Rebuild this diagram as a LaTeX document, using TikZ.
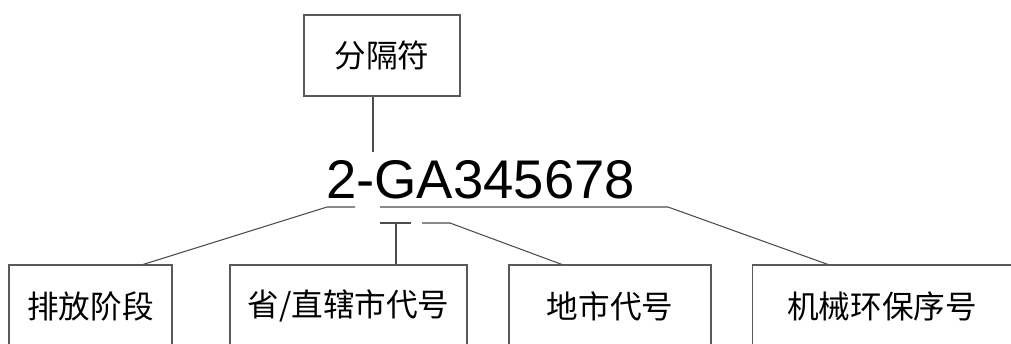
\documentclass[tikz,border=0pt]{standalone}
\usepackage{fontspec}
\newfontfamily\cjk{Noto Sans CJK SC}
\newfontfamily\arial{Liberation Sans}

\begin{document}
\begin{tikzpicture}[x=0.02cm,y=-0.02cm,
	box/.style={draw=black!65,line width=0.6pt,inner sep=0pt,font=\cjk\fontsize{18}{20}\selectfont},
	conn/.style={draw=black!70,line width=0.6pt}]
	\useasboundingbox (0,0) rectangle (1011,343);
	\clip (0,0) rectangle (1011,343);
	\node[box,minimum width=3.12cm,minimum height=1.62cm] (sep) at (382,55.5) {分隔符};
	\node[anchor=base,inner sep=0pt,font=\arial\fontsize{31}{34}\selectfont] (code) at (480.5,198) {2-GA345678};
	\node[box,minimum width=3.26cm,minimum height=1.64cm] (b1) at (90.5,306) {排放阶段};
	\node[box,minimum width=4.74cm,minimum height=1.64cm] (b2) at (348.5,306) {省/直辖市代号};
	\node[box,minimum width=4.04cm,minimum height=1.64cm] (b3) at (610,306) {地市代号};
	\node[box,minimum width=5.2cm,minimum height=1.64cm] (b4) at (882,306) {机械环保序号};
	\coordinate (hy) at (373,152);
	\coordinate (u1a) at (327,207);
	\coordinate (u1b) at (355,207);
	\coordinate (u2a) at (380,207);
	\coordinate (u2b) at (668,207);
	\coordinate (u3a) at (380,223);
	\coordinate (u3b) at (411,223);
	\coordinate (u3m) at (396,223);
	\coordinate (u4a) at (422,223);
	\coordinate (u4b) at (450,223);
	\coordinate (t1) at (143,0);
	\coordinate (t3) at (562,0);
	\coordinate (t4) at (828,0);
	\draw[conn] (sep.south -| hy) -- (hy);
	\draw[conn] (u1b) -- (u1a) -- (b1.north -| t1);
	\draw[conn] (u2a) -- (u2b) -- (b4.north -| t4);
	\draw[conn] (u3a) -- (u3b);
	\draw[conn] (u3m) -- (b2.north -| u3m);
	\draw[conn] (u4a) -- (u4b) -- (b3.north -| t3);
\end{tikzpicture}
\end{document}
